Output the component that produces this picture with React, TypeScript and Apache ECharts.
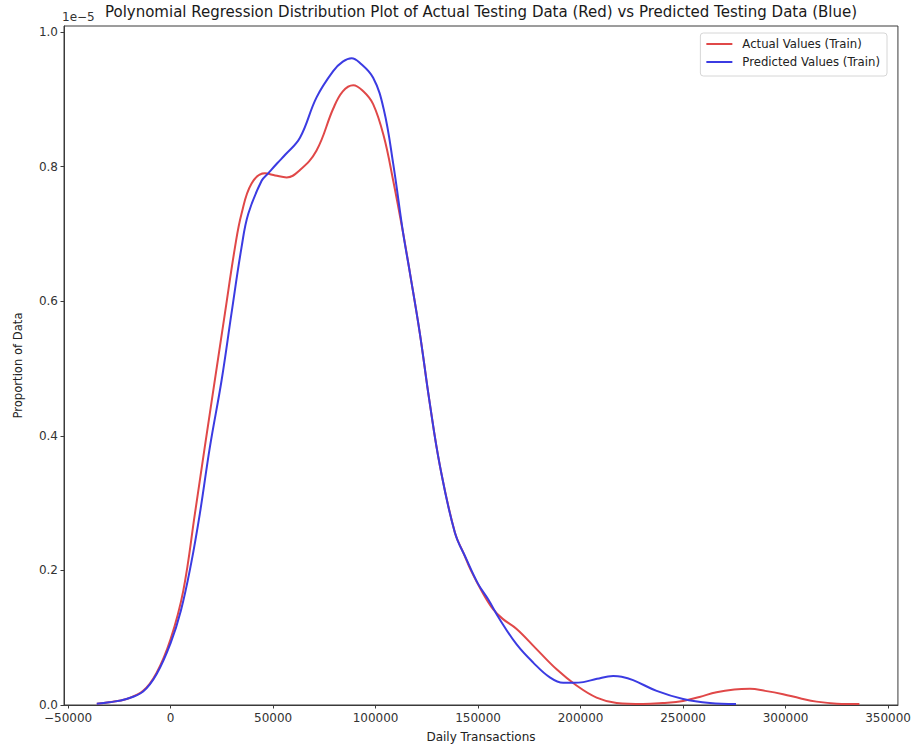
import React, { useEffect, useRef } from "react";
import * as echarts from "echarts";

// Kernel density estimates of daily transactions (density in units of 1e-5)
const actualX = [
  -36000, -30000, -21500, -13400, -6800, 0, 6200, 11900, 16700, 21600, 26500,
  31400, 34600, 39500, 46000, 51000, 56600, 63100, 71200, 79300, 84000, 89100,
  94000, 98800, 104000, 108600, 113500, 116700, 121600, 126200, 131400, 138700,
  143000, 146500, 152000, 157400, 162000, 168800, 178500, 188300, 198000,
  207800, 217600, 230500, 240000, 250000, 258000, 266300, 275000, 282600,
  290000, 298800, 307000, 315100, 325000, 336000,
];
const actualY = [
  0.002, 0.004, 0.009, 0.021, 0.048, 0.098, 0.17, 0.285, 0.384, 0.483, 0.582,
  0.68, 0.73, 0.775, 0.79, 0.787, 0.784, 0.795, 0.824, 0.886, 0.912, 0.921,
  0.912, 0.893, 0.845, 0.779, 0.7, 0.643, 0.552, 0.453, 0.355, 0.256, 0.225,
  0.2, 0.168, 0.142, 0.128, 0.113, 0.083, 0.053, 0.029, 0.011, 0.003, 0.0015,
  0.003, 0.006, 0.012, 0.019, 0.023, 0.024, 0.021, 0.016, 0.01, 0.005, 0.002,
  0.0015,
];

const predictedX = [
  -36000, -30000, -21500, -13400, -6800, 0, 5000, 10000, 14300, 19200, 24900,
  29700, 34600, 37900, 44400, 47600, 52000, 56000, 63100, 71200, 79300, 84000,
  88300, 92000, 98800, 104000, 108600, 113500, 116700, 121600, 126200, 131400,
  138700, 144400, 150000, 154900, 160600, 168800, 176900, 185000, 191500,
  196300, 201300, 208000, 215900, 220000, 225600, 237100, 250000, 263100,
  275800,
];
const predictedY = [
  0.002, 0.004, 0.009, 0.02, 0.046, 0.092, 0.14, 0.21, 0.285, 0.384, 0.483,
  0.582, 0.68, 0.73, 0.779, 0.79, 0.805, 0.818, 0.843, 0.903, 0.942, 0.956,
  0.961, 0.955, 0.932, 0.885, 0.804, 0.7, 0.643, 0.552, 0.453, 0.355, 0.256,
  0.216, 0.18, 0.157, 0.127, 0.09, 0.063, 0.041, 0.033, 0.033, 0.034, 0.039,
  0.043, 0.042, 0.037, 0.021, 0.009, 0.003, 0.0015,
];

const xTicks = [-50000, 0, 50000, 100000, 150000, 200000, 250000, 300000, 350000];
const yTicks = [0, 0.2, 0.4, 0.6, 0.8, 1.0];

const seriesNames = ["Actual Values (Train)", "Predicted Values (Train)"];
const titleText =
  "Polynomial Regression Distribution Plot of Actual Testing Data (Red) vs Predicted Testing Data (Blue)";
const offsetText = "1e\u22125";

const FONT = "'DejaVu Sans', sans-serif";
const RED = "#e04848";
const BLUE = "#3b3be2";
const SPINE = "#3a3a3a";

const pairs = (xs: number[], ys: number[]) => xs.map((x, i) => [x, ys[i]]);

export default function App() {
  const ref = useRef<HTMLDivElement>(null);

  useEffect(() => {
    if (!ref.current) return;
    const chart = echarts.init(ref.current, undefined, { renderer: "svg" });
    const tickLabel = (v: number) =>
      v < 0 ? "\u2212" + String(Math.abs(v)) : String(v);

    const gridLeft = 64;
    const gridRight = 16;
    const plotCentre = gridLeft + (914 - gridLeft - gridRight) / 2;

    chart.setOption({
      animation: false,
      backgroundColor: "#ffffff",
      textStyle: { fontFamily: FONT },
      grid: {
        left: gridLeft,
        right: gridRight,
        top: 26,
        bottom: 42,
        show: true,
        borderColor: SPINE,
        borderWidth: 1,
        backgroundColor: "transparent",
      },
      legend: {
        data: seriesNames.map((n) => ({ name: n, icon: "rect" })),
        orient: "vertical",
        right: 27,
        top: 33,
        itemWidth: 26,
        itemHeight: 2,
        itemGap: 6,
        padding: [5, 7, 8, 6],
        borderColor: "#d6d6d6",
        borderWidth: 1,
        borderRadius: 3,
        textStyle: {
          fontSize: 11.7,
          color: "#222",
          fontFamily: FONT,
          padding: [0, 0, 0, 5],
        },
      },
      xAxis: {
        type: "value",
        min: -52000,
        max: 354800,
        name: "Daily Transactions",
        nameLocation: "middle",
        nameGap: 26,
        nameTextStyle: { fontSize: 12, color: "#222", fontFamily: FONT },
        splitLine: { show: false },
        axisLine: { show: true, onZero: false, lineStyle: { color: SPINE } },
        axisTick: {
          show: true,
          length: 3.5,
          customValues: xTicks,
          lineStyle: { color: SPINE },
        },
        axisLabel: {
          customValues: xTicks,
          formatter: tickLabel,
          fontSize: 12,
          color: "#333",
          margin: 7,
          fontFamily: FONT,
        },
      },
      yAxis: {
        type: "value",
        min: 0,
        max: 1.009,
        name: "Proportion of Data",
        nameLocation: "middle",
        nameGap: 40,
        nameTextStyle: { fontSize: 11.6, color: "#222", fontFamily: FONT },
        splitLine: { show: false },
        axisLine: { show: true, onZero: false, lineStyle: { color: SPINE } },
        axisTick: {
          show: true,
          length: 3.5,
          customValues: yTicks,
          lineStyle: { color: SPINE },
        },
        axisLabel: {
          customValues: yTicks,
          formatter: (v: number) => v.toFixed(1),
          fontSize: 12,
          color: "#333",
          margin: 6,
          fontFamily: FONT,
        },
      },
      graphic: [
        {
          type: "text",
          x: plotCentre,
          y: 12,
          style: {
            text: titleText,
            fontSize: 15,
            fill: "#1a1a1a",
            fontFamily: FONT,
            align: "center",
            verticalAlign: "middle",
          },
        },
        {
          type: "text",
          x: 62,
          y: 17,
          style: {
            text: offsetText,
            fontSize: 12,
            fill: "#333",
            fontFamily: FONT,
            align: "left",
            verticalAlign: "middle",
          },
        },
      ],
      series: [
        {
          name: seriesNames[0],
          type: "line",
          data: pairs(actualX, actualY),
          showSymbol: false,
          smooth: 0.4,
          lineStyle: { color: RED, width: 2 },
          itemStyle: { color: RED },
          z: 2,
        },
        {
          name: seriesNames[1],
          type: "line",
          data: pairs(predictedX, predictedY),
          showSymbol: false,
          smooth: 0.4,
          lineStyle: { color: BLUE, width: 2 },
          itemStyle: { color: BLUE },
          z: 3,
        },
      ],
    });

    return () => chart.dispose();
  }, []);

  return (
    <div
      ref={ref}
      style={{ position: "fixed", left: 0, top: 0, width: 914, height: 748 }}
    />
  );
}
